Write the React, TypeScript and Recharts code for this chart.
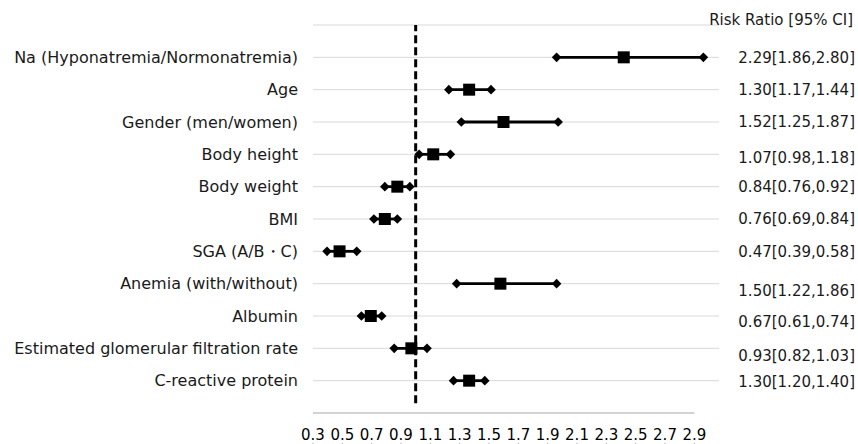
import {
  ScatterChart,
  Scatter,
  XAxis,
  YAxis,
  ErrorBar,
  ReferenceLine,
} from "recharts";

const rowLabels = [
  "Na (Hyponatremia/Normonatremia)",
  "Age",
  "Gender (men/women)",
  "Body height",
  "Body weight",
  "BMI",
  "SGA (A/B・C)",
  "Anemia (with/without)",
  "Albumin",
  "Estimated glomerular filtration rate",
  "C-reactive protein",
];
const riskRatio = [2.29, 1.3, 1.52, 1.07, 0.84, 0.76, 0.47, 1.5, 0.67, 0.93, 1.3];
const ciLow = [1.86, 1.17, 1.25, 0.98, 0.76, 0.69, 0.39, 1.22, 0.61, 0.82, 1.2];
const ciHigh = [2.8, 1.44, 1.87, 1.18, 0.92, 0.84, 0.58, 1.86, 0.74, 1.03, 1.4];
const xTicks = [0.3, 0.5, 0.7, 0.9, 1.1, 1.3, 1.5, 1.7, 1.9, 2.1, 2.3, 2.5, 2.7, 2.9];
const headerText = "Risk Ratio [95% CI]";
const refValue = 1.0;

const font = "'DejaVu Sans', sans-serif";
const textColor = "#1a1a1a";
const nRows = rowLabels.length;
const rowTicks = Array.from({ length: nRows + 1 }, (_, i) => i + 1);
// the printed tick axis is a bit narrower than the plotted data in the original
const tickAxisMax = 3.068;
// small vertical shifts of the right-hand text, as in the original
const rightNudge = [0, 0, 0, 3, 0, 0, 0, 7, 6, 7, 1];

const rowOf = (i: number) => nRows - i;
const ciText = (i: number) =>
  `${riskRatio[i].toFixed(2)}[${ciLow[i].toFixed(2)},${ciHigh[i].toFixed(2)}]`;

const points = riskRatio.map((rr, i) => ({
  x: rr,
  y: rowOf(i),
  err: [rr - ciLow[i], ciHigh[i] - rr],
}));
const lows = ciLow.map((v, i) => ({ x: v, y: rowOf(i) }));
const highs = ciHigh.map((v, i) => ({ x: v, y: rowOf(i) }));

const Square = (props: any) => (
  <rect x={props.cx - 6} y={props.cy - 6} width={12} height={12} fill="#000" />
);

const Diamond = (props: any) => {
  const { cx, cy } = props;
  const r = 4.8;
  return (
    <polygon
      points={`${cx - r},${cy} ${cx},${cy - r} ${cx + r},${cy} ${cx},${cy + r}`}
      fill="#000"
    />
  );
};

const Nothing = () => null;

const LeftTick = (props: any) => {
  const v = props.payload.value;
  if (v > nRows) return null;
  return (
    <text
      x={298}
      y={props.y}
      dy="0.36em"
      textAnchor="end"
      fontFamily={font}
      fontSize={16}
      fill={textColor}
    >
      {rowLabels[nRows - v]}
    </text>
  );
};

const RightTick = (props: any) => {
  const v = props.payload.value;
  const isHeader = v > nRows;
  const i = nRows - v;
  return (
    <text
      x={isHeader ? 853 : 855}
      y={props.y + (isHeader ? -5 : rightNudge[i])}
      dy="0.36em"
      textAnchor="end"
      fontFamily={font}
      fontSize={15}
      fill={textColor}
    >
      {isHeader ? headerText : ciText(i)}
    </text>
  );
};

const BottomTick = (props: any) => (
  <text
    x={props.x}
    y={440}
    textAnchor="middle"
    fontFamily={font}
    fontSize={15}
    fill="#000"
  >
    {props.payload.value.toFixed(1)}
  </text>
);

export default function App() {
  return (
    <div
      style={{
        position: "absolute",
        left: 0,
        top: 0,
        width: 858,
        height: 444,
        background: "#fff",
        fontFamily: font,
      }}
    >
      <ScatterChart
        width={858}
        height={444}
        margin={{ top: 25, right: 0, bottom: 0, left: 0 }}
      >
        <XAxis
          xAxisId="data"
          dataKey="x"
          type="number"
          domain={[0.3, 2.9]}
          hide
        />
        <XAxis
          xAxisId="tick"
          dataKey="x"
          type="number"
          domain={[0.3, tickAxisMax]}
          ticks={xTicks}
          interval={0}
          allowDataOverflow
          axisLine={false}
          tickLine={{ stroke: "#a6a6a6" }}
          tickSize={5}
          height={31}
          tick={<BottomTick />}
        />
        <YAxis
          yAxisId="left"
          dataKey="y"
          type="number"
          domain={[0, nRows + 1]}
          ticks={rowTicks}
          interval={0}
          width={313}
          axisLine={false}
          tickLine={false}
          tick={<LeftTick />}
        />
        <YAxis
          yAxisId="right"
          dataKey="y"
          orientation="right"
          type="number"
          domain={[0, nRows + 1]}
          ticks={rowTicks}
          interval={0}
          width={139}
          axisLine={false}
          tickLine={false}
          tick={<RightTick />}
        />
        {/* row gridlines */}
        {rowTicks.map((t) => (
          <ReferenceLine
            key={t}
            xAxisId="data"
            yAxisId="left"
            y={t}
            stroke="#d9d9d9"
            strokeWidth={1}
          />
        ))}
        {/* invisible series so the tick axis and the right axis get drawn */}
        <Scatter
          xAxisId="tick"
          yAxisId="right"
          data={points}
          shape={<Nothing />}
          isAnimationActive={false}
        />
        <ReferenceLine
          xAxisId="tick"
          yAxisId="right"
          segment={[
            { x: xTicks[0], y: 0 },
            { x: xTicks[xTicks.length - 1], y: 0 },
          ]}
          stroke="#a6a6a6"
          strokeWidth={1}
        />
        <ReferenceLine
          xAxisId="tick"
          yAxisId="right"
          segment={[
            { x: refValue, y: 0.3 },
            { x: refValue, y: nRows + 1 },
          ]}
          stroke="#000"
          strokeWidth={3}
          strokeDasharray="8 4"
        />
        <Scatter
          xAxisId="data"
          yAxisId="left"
          data={points}
          shape={<Square />}
          isAnimationActive={false}
        >
          <ErrorBar
            dataKey="err"
            direction="x"
            width={0}
            stroke="#000"
            strokeWidth={2.8}
            isAnimationActive={false}
          />
        </Scatter>
        <Scatter
          xAxisId="data"
          yAxisId="left"
          data={lows}
          shape={<Diamond />}
          isAnimationActive={false}
        />
        <Scatter
          xAxisId="data"
          yAxisId="left"
          data={highs}
          shape={<Diamond />}
          isAnimationActive={false}
        />
      </ScatterChart>
    </div>
  );
}
